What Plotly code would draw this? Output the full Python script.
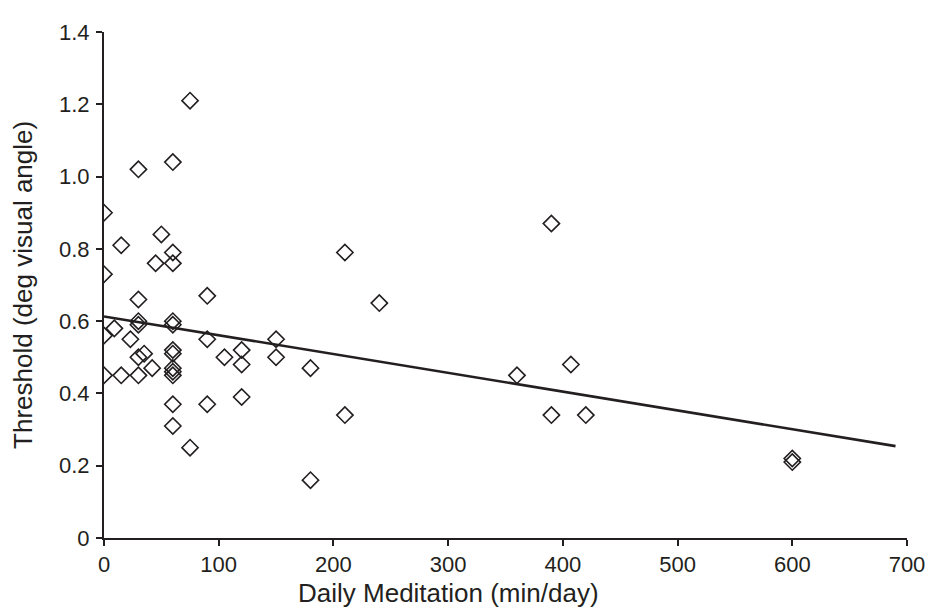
import plotly.graph_objects as go

# Daily meditation (min/day) vs threshold (deg visual angle)
meditation = [75, 30, 60, 0, 15, 50, 60, 45, 60, 0,
              30, 90, 30, 30, 9, 0, 60, 60, 23, 90,
              150, 35, 30, 60, 60, 105, 120, 120, 150, 42,
              60, 60, 60, 0, 15, 30, 60, 90, 120, 60,
              75, 180, 180, 210, 210, 240, 360, 390, 407, 390,
              420, 600, 600]
threshold = [1.21, 1.02, 1.04, 0.90, 0.81, 0.84, 0.79, 0.76, 0.76, 0.73,
             0.66, 0.67, 0.60, 0.59, 0.58, 0.56, 0.60, 0.59, 0.55, 0.55,
             0.55, 0.51, 0.50, 0.52, 0.51, 0.50, 0.52, 0.48, 0.50, 0.47,
             0.47, 0.46, 0.45, 0.45, 0.45, 0.45, 0.37, 0.37, 0.39, 0.31,
             0.25, 0.47, 0.16, 0.34, 0.79, 0.65, 0.45, 0.87, 0.48, 0.34,
             0.34, 0.22, 0.21]

# Linear trend line as drawn in the figure
trend_intercept = 0.613
trend_slope = -0.00052
trend_x = [0, 690]
trend_y = [trend_intercept + trend_slope * x for x in trend_x]

x_ticks = [0, 100, 200, 300, 400, 500, 600, 700]
y_ticks = [0, 0.2, 0.4, 0.6, 0.8, 1.0, 1.2, 1.4]
y_tick_labels = ["0", "0.2", "0.4", "0.6", "0.8", "1.0", "1.2", "1.4"]

ink = "#231f20"
font_family = "Liberation Sans, Arial, sans-serif"

fig = go.Figure()
fig.add_trace(go.Scatter(
    x=trend_x, y=trend_y, mode="lines",
    line=dict(color=ink, width=2.6), showlegend=False, hoverinfo="skip"))
fig.add_trace(go.Scatter(
    x=meditation, y=threshold, mode="markers",
    marker=dict(symbol="diamond-open", size=12.5, color=ink,
                line=dict(color=ink, width=1.6)),
    showlegend=False))

axis_common = dict(
    showgrid=False, zeroline=False, showline=True, linecolor=ink, linewidth=2,
    ticks="outside", ticklen=6, tickwidth=2, tickcolor=ink,
    tickfont=dict(family=font_family, size=22, color=ink),
)

fig.update_layout(
    width=929, height=602,
    margin=dict(l=96, r=20, t=15, b=72),
    paper_bgcolor="white", plot_bgcolor="white",
    font=dict(family=font_family, size=22, color=ink),
    xaxis=dict(range=[0, 700], tickvals=x_ticks, **axis_common),
    yaxis=dict(range=[0, 1.4], tickvals=y_ticks, ticktext=y_tick_labels,
               ticklabelstandoff=2, **axis_common),
    annotations=[
        dict(text="Daily Meditation (min/day)", xref="paper", yref="paper",
             x=0.429, y=-0.108, xanchor="center", yanchor="middle",
             showarrow=False, font=dict(family=font_family, size=26, color=ink)),
        dict(text="Threshold (deg visual angle)", xref="paper", yref="paper",
             x=-0.101, y=0.5, xanchor="center", yanchor="middle", textangle=-90,
             showarrow=False, font=dict(family=font_family, size=26, color=ink)),
    ],
)

fig.write_html("out.html")
